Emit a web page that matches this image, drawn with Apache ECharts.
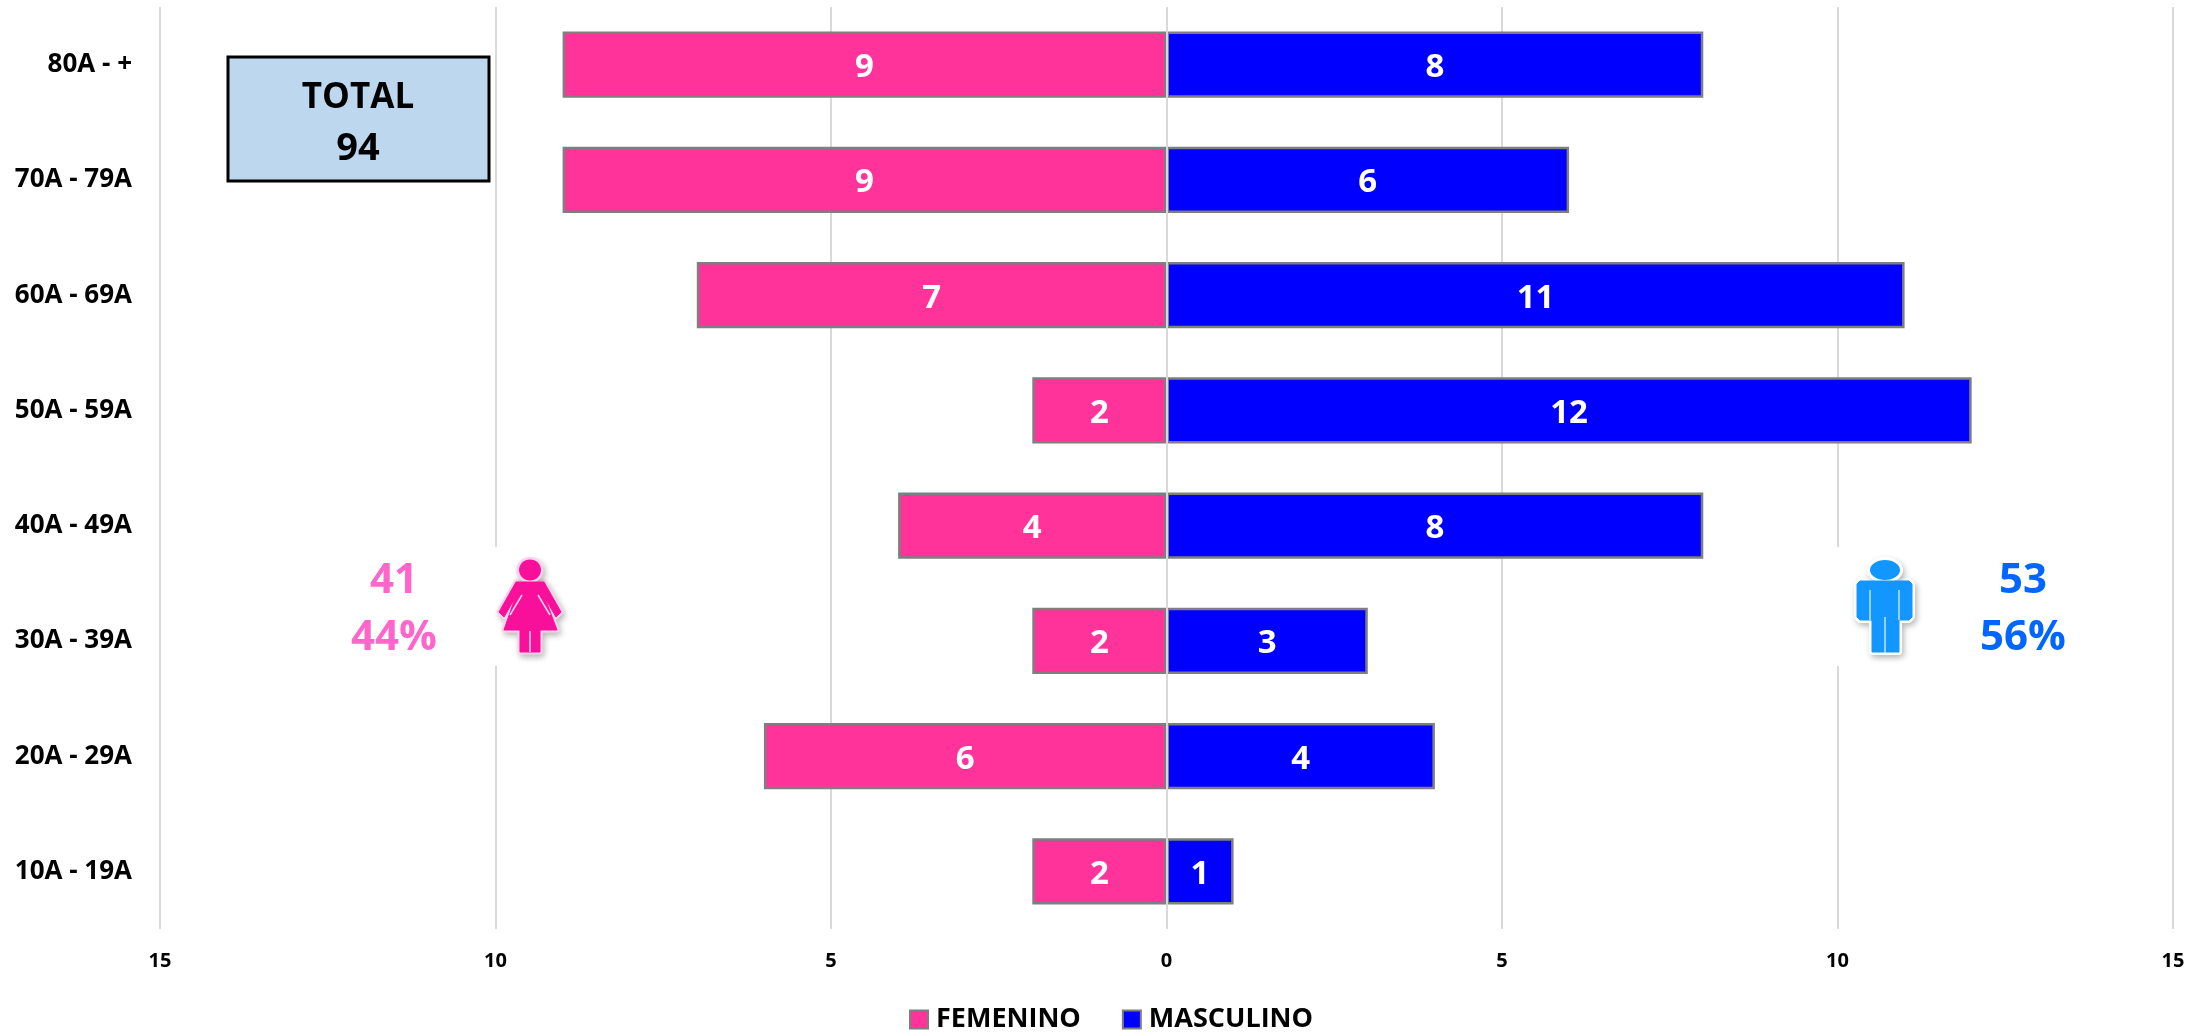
<!DOCTYPE html>
<html><head><meta charset="utf-8">
<style>html,body{margin:0;padding:0;background:#fff}#c{width:2208px;height:1032px}</style>
<script src="https://cdn.jsdelivr.net/npm/echarts@6/dist/echarts.min.js"></script>
</head><body><div id="c"></div>
<script>
const categories = ['80A - +','70A - 79A','60A - 69A','50A - 59A','40A - 49A','30A - 39A','20A - 29A','10A - 19A'];
const femenino = [9,9,7,2,4,2,6,2];
const masculino = [8,6,11,12,8,3,4,1];
const totalLines = ['TOTAL','94'];
const femLines = ['41','44%'];
const mascLines = ['53','56%'];
const FONT = '"Open Sans"';
const PINK = '#FF3399', BLUE = '#0000FF', GREY = '#7F7F7F', GRID = '#D9D9D9';
const txt = (x,y,t,size,fill) => ({type:'text',z:20,x,y,style:{text:t,font:`bold ${size}px ${FONT}`,fill,align:'center',verticalAlign:'middle'}});
const soft = {shadowBlur:6,shadowColor:'rgba(0,0,0,.22)',shadowOffsetX:2,shadowOffsetY:3};
const femPts = [[516,582],[544,582],[561,612],[556,617],[545,598],[557,630],[540,630],[540,652],[520,652],[520,630],[504,630],[515,598],[504,617],[499,612]];
const mascPts = [[1860,581],[1909,581],[1912,584],[1912,617],[1909,620],[1899,620],[1899,652],[1872,652],[1872,620],[1860,620],[1857,617],[1857,584]];
const seg = (x1,y1,x2,y2,stroke) => ({type:'line',z:23,shape:{x1,y1,x2,y2},style:{stroke,lineWidth:1.5}});
const graphic = [
  {type:'rect',z:19,shape:{x:228,y:57,width:261,height:124},style:{fill:'#BDD7EE',stroke:'#000',lineWidth:3}},
  txt(358,98,totalLines[0],35,'#000'), txt(358,149,totalLines[1],38,'#000'),
  txt(394,581,femLines[0],42,'#FF66CC'), txt(394,638,femLines[1],42,'#FF66CC'),
  txt(2023,581,mascLines[0],42,'#0066FF'), txt(2023,638,mascLines[1],42,'#0066FF'),
  {type:'rect',z:18,shape:{x:490,y:547,width:83,height:119},style:{fill:'#fff'}},
  {type:'rect',z:18,shape:{x:1835,y:547,width:85,height:119},style:{fill:'#fff'}},
  {type:'polygon',z:21,shape:{points:femPts},style:{fill:'#FAD3EA',stroke:'#FAD3EA',lineWidth:5,lineJoin:'round',...soft}},
  {type:'ellipse',z:21,shape:{cx:530,cy:570,rx:11,ry:10.5},style:{fill:'#FAD3EA',stroke:'#FAD3EA',lineWidth:5,...soft}},
  {type:'polygon',z:22,shape:{points:femPts},style:{fill:'#F8109A',stroke:'#F8109A',lineWidth:1,lineJoin:'round'}},
  {type:'ellipse',z:22,shape:{cx:530,cy:570,rx:11,ry:10.5},style:{fill:'#F8109A'}},
  seg(530,631,530,652,'#FAD3EA'), seg(522,595,510,615,'#FAD3EA'), seg(538,595,550,615,'#FAD3EA'),
  {type:'polygon',z:21,shape:{points:mascPts},style:{fill:'#fff',stroke:'#fff',lineWidth:6,lineJoin:'round',...soft}},
  {type:'ellipse',z:21,shape:{cx:1885,cy:570,rx:15,ry:10},style:{fill:'#fff',stroke:'#fff',lineWidth:6,...soft}},
  {type:'polygon',z:22,shape:{points:mascPts},style:{fill:'#1296FF',stroke:'#1296FF',lineWidth:1,lineJoin:'round'}},
  {type:'ellipse',z:22,shape:{cx:1885,cy:570,rx:15,ry:10},style:{fill:'#1296FF'}},
  seg(1870,590,1870,620,'#BFE3FF'), seg(1899,590,1899,620,'#BFE3FF'), seg(1885,617,1885,653,'#BFE3FF')
];
const label = {show:true,position:'inside',offset:[0,3],color:'#fff',fontFamily:FONT,fontWeight:'bold',fontSize:33,
  formatter:p=>Math.abs(p.value)};
const chart = echarts.init(document.getElementById('c'),null,{renderer:'canvas'});
chart.setOption({
  animation:false,
  backgroundColor:'#fff',
  grid:{left:160,right:35,top:7,bottom:103,containLabel:false},
  legend:{left:909,top:1006,padding:0,itemWidth:18,itemHeight:18,itemGap:41,icon:'rect',
    textStyle:{fontFamily:FONT,fontWeight:'bold',fontSize:27,color:'#000',padding:[0,0,0,3]},
    data:['FEMENINO','MASCULINO']},
  xAxis:{type:'value',min:-15,max:15,interval:5,
    axisLine:{show:false},axisTick:{show:false},
    splitLine:{show:true,lineStyle:{color:GRID,width:2}},
    axisLabel:{margin:22,color:'#000',fontFamily:FONT,fontWeight:'bold',fontSize:20,formatter:v=>Math.abs(v)}},
  yAxis:{type:'category',inverse:true,data:categories,
    axisLine:{show:false},axisTick:{show:false},
    axisLabel:{margin:28,color:'#000',fontFamily:FONT,fontWeight:'bold',fontSize:26,padding:[6,0,0,0]}},
  series:[
    {name:'FEMENINO',type:'bar',stack:'t',barWidth:'57.5%',data:femenino.map(v=>-v),label,
     itemStyle:{color:PINK,borderColor:GREY,borderWidth:2.5},
     markLine:{silent:true,symbol:'none',label:{show:false},lineStyle:{color:GRID,width:2,type:'solid'},data:[{xAxis:0}],animation:false}},
    {name:'MASCULINO',type:'bar',stack:'t',barWidth:'57.5%',data:masculino,label,
     itemStyle:{color:BLUE,borderColor:GREY,borderWidth:2.5}}
  ],
  graphic:{elements:graphic}
});
</script></body></html>
